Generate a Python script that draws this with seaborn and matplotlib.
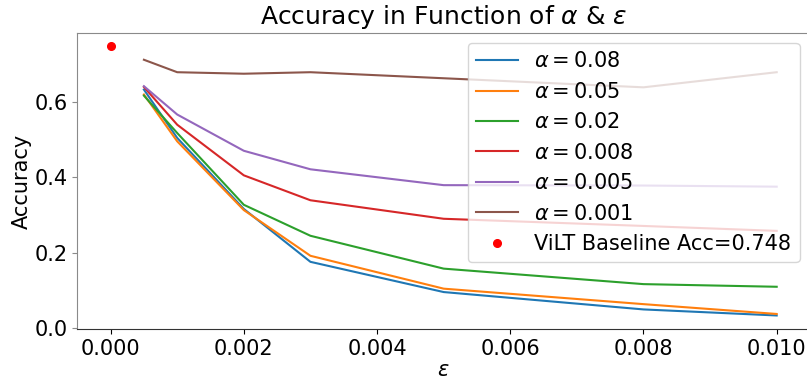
import matplotlib
matplotlib.use("Agg")
import matplotlib.pyplot as plt
import seaborn as sns
import pandas as pd

eps = [0.0005, 0.001, 0.002, 0.003, 0.005, 0.008, 0.010]
alphas = ["0.08", "0.05", "0.02", "0.008", "0.005", "0.001"]
acc_a008 = [0.632, 0.504, 0.316, 0.176, 0.096, 0.050, 0.034]
acc_a005 = [0.619, 0.495, 0.313, 0.192, 0.105, 0.064, 0.038]
acc_a002 = [0.616, 0.517, 0.327, 0.245, 0.158, 0.117, 0.110]
acc_a0008 = [0.639, 0.539, 0.405, 0.339, 0.290, 0.271, 0.258]
acc_a0005 = [0.641, 0.566, 0.470, 0.421, 0.379, 0.378, 0.375]
acc_a0001 = [0.711, 0.678, 0.674, 0.678, 0.662, 0.638, 0.678]
baseline_acc = 0.748

series = [acc_a008, acc_a005, acc_a002, acc_a0008, acc_a0005, acc_a0001]
colors = sns.color_palette("tab10", 6)

fig = plt.figure(figsize=(8.07, 3.81), dpi=100)
ax = fig.add_axes([77.3 / 807, 1 - 329.3 / 381, (810 - 77.3) / 807, (329.3 - 32.7) / 381])

for a, vals, c in zip(alphas, series, colors):
    df = pd.DataFrame({"eps": eps, "acc": vals})
    sns.lineplot(data=df, x="eps", y="acc", ax=ax, color=c, linewidth=1.5,
                 label=r"$\alpha=%s$" % a)

ax.plot([0.0], [baseline_acc], "o", color="red", markersize=5.5, linestyle="none",
        label="ViLT Baseline Acc=%.3f" % baseline_acc)

ax.set_xlim(-0.0005, 0.0105)
ax.set_ylim(-0.0026, 0.7826)
ax.set_xticks([0.0, 0.002, 0.004, 0.006, 0.008, 0.010])
ax.set_xticklabels(["0.000", "0.002", "0.004", "0.006", "0.008", "0.010"])
ax.set_yticks([0.0, 0.2, 0.4, 0.6])
ax.tick_params(labelsize=15)
ax.spines["left"].set_color("#8a8a8a")
ax.spines["top"].set_color("#8a8a8a")
ax.spines["bottom"].set_color("#333333")
ax.tick_params(axis="y", color="#8a8a8a")
ax.set_xlabel(r"$\epsilon$", fontsize=15, labelpad=1)
ax.set_ylabel("Accuracy", fontsize=15, labelpad=2)
ax.set_title(r"Accuracy in Function of $\alpha$ & $\epsilon$", fontsize=18)
ax.legend(loc="upper right", fontsize=15, handletextpad=0.8)

fig.savefig("out.png", dpi=100)
